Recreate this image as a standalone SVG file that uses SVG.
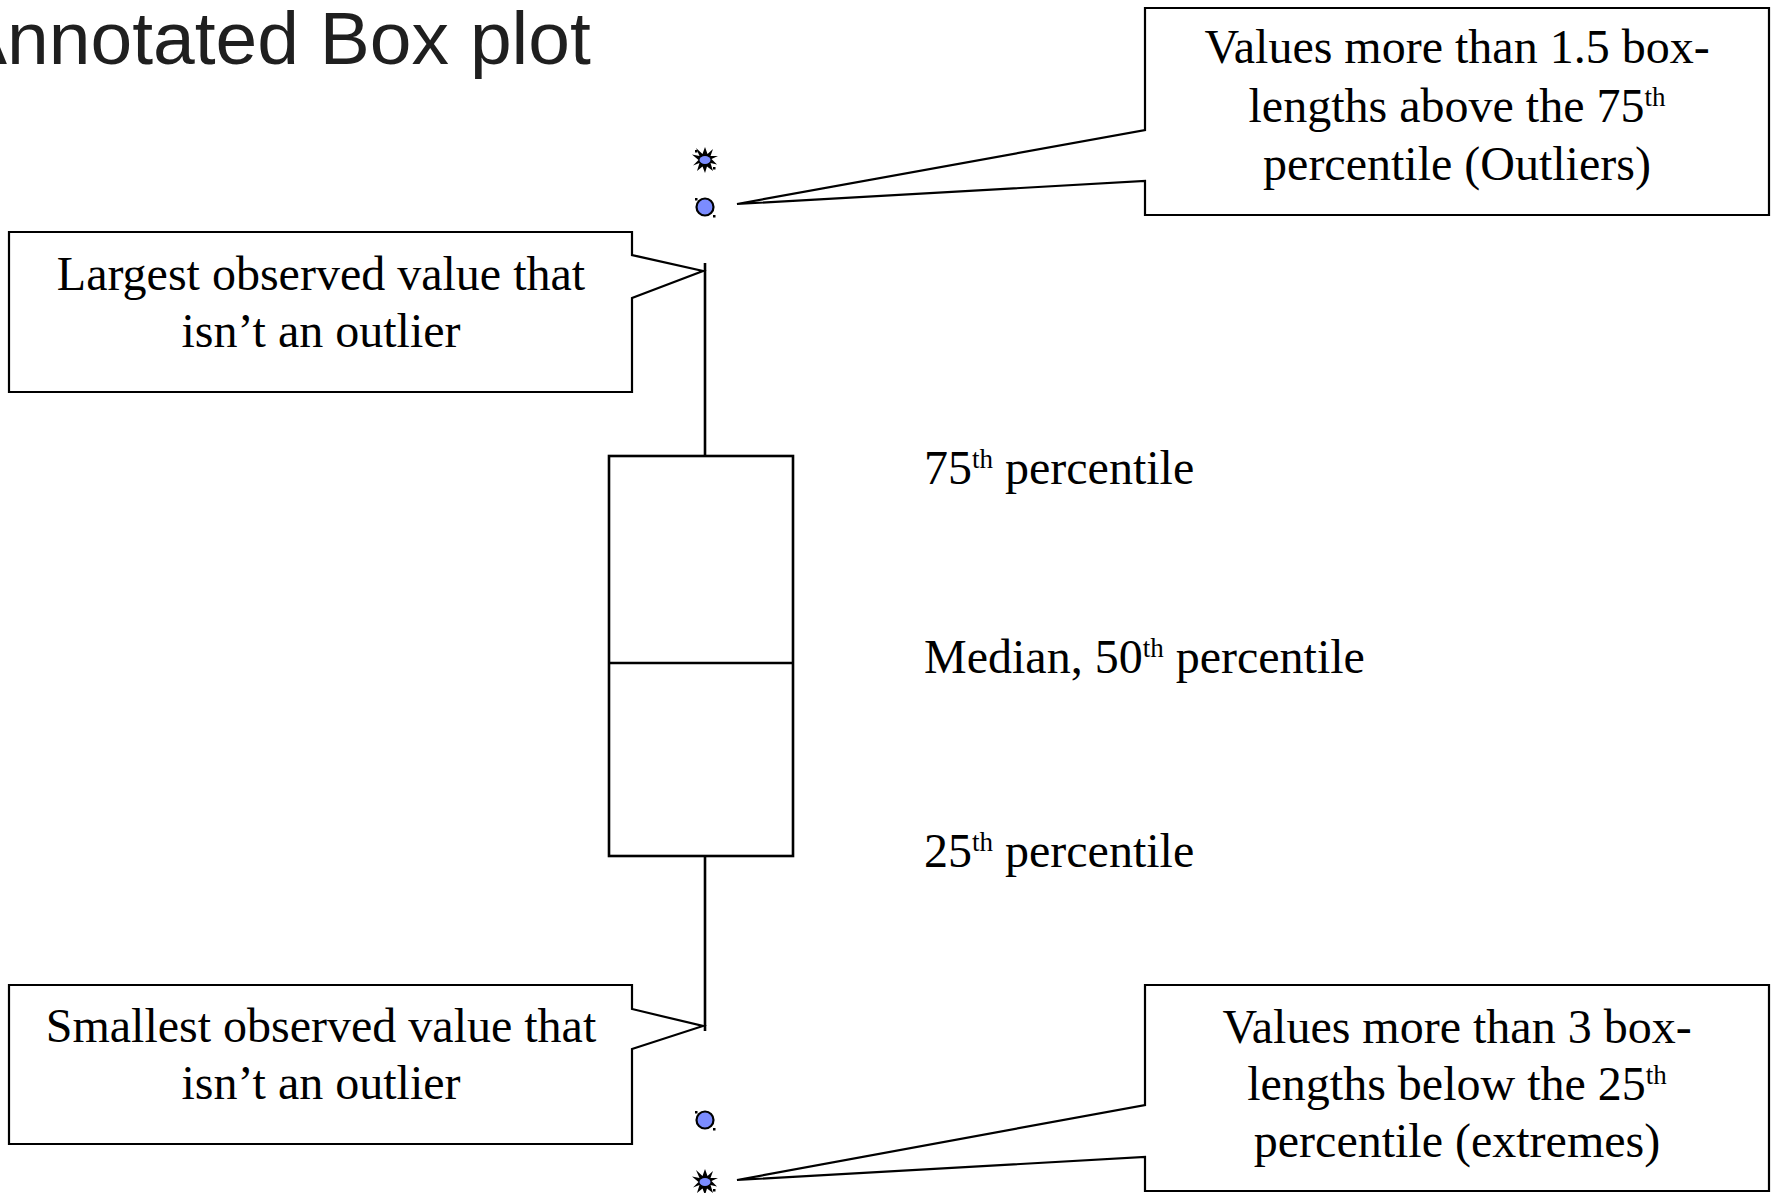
<svg xmlns="http://www.w3.org/2000/svg" width="1777" height="1193" viewBox="0 0 1777 1193">
<style>
.title{font-family:"Liberation Sans",Arial,sans-serif;font-size:75px;fill:#1f1f1f}
.lbl{font-family:"Liberation Serif","Times New Roman",serif;font-size:48px;fill:#000}
.mid{text-anchor:middle}
.sup{font-size:27px}
.callout{fill:#fff;stroke:#000;stroke-width:2.2;stroke-linejoin:miter}
.plot{fill:none;stroke:#000;stroke-width:2.6}
.pt{fill:#7b8cff;stroke:#000;stroke-width:2.2}
.burst{fill:#000}
.core{fill:#7b8cff}
.h{fill:#000}
</style>
<defs>
<polygon id="star" points="0,-13 2.5,-6 8,-11 5.5,-4 13,-4 6.5,-1 12,4.5 5.5,3 8,11 2,6.5 0,13 -2.5,6.5 -8,11 -5.5,3 -12,5.5 -6.5,0 -13,-5.5 -5.5,-4 -9,-12 -2.5,-6"/>
</defs>
<rect width="1777" height="1193" fill="#fff"/>
<text id="title" class="title" x="-43" y="64">Annotated Box plot</text>

<g id="connectors">
<line class="plot" x1="705" y1="263" x2="705" y2="456"/>
<line class="plot" x1="705" y1="856" x2="705" y2="1031"/>
</g>

<g id="box">
<rect class="plot" x="609" y="456" width="184" height="400"/>
<line class="plot" x1="609" y1="663" x2="793" y2="663"/>
</g>

<g id="outlier-high">
<circle class="pt" cx="705" cy="207" r="8.5"/>
<rect class="h" x="695" y="198" width="2.5" height="2.5"/>
<rect class="h" x="713" y="215" width="2.5" height="2.5"/>
</g>
<g id="extreme-high">
<use href="#star" class="burst" x="705" y="160"/>
<ellipse class="core" cx="705" cy="160" rx="5.5" ry="4"/>
<rect class="h" x="695" y="150" width="2.5" height="2.5"/>
<rect class="h" x="713" y="167" width="2.5" height="2.5"/>
</g>
<g id="outlier-low">
<circle class="pt" cx="705" cy="1120" r="8.5"/>
<rect class="h" x="695" y="1111" width="2.5" height="2.5"/>
<rect class="h" x="713" y="1128" width="2.5" height="2.5"/>
</g>
<g id="extreme-low">
<use href="#star" class="burst" x="705" y="1182"/>
<ellipse class="core" cx="705" cy="1182" rx="5.5" ry="4"/>
<rect class="h" x="713" y="1189" width="2.5" height="2.5"/>
</g>

<g id="callout-outliers">
<path class="callout" d="M1145,8 H1769 V215 H1145 V181 L737,204 L1145,130 Z"/>
<text class="lbl mid" x="1457" y="63">Values more than 1.5 box-</text>
<text class="lbl mid" x="1457" y="122">lengths above the 75<tspan class="sup" dy="-16">th</tspan></text>
<text class="lbl mid" x="1457" y="180">percentile (Outliers)</text>
</g>

<g id="callout-largest">
<path class="callout" d="M9,232 H632 V255 L703,271 L632,298 V392 H9 Z"/>
<text class="lbl mid" x="321" y="290">Largest observed value that</text>
<text class="lbl mid" x="321" y="347">isn’t an outlier</text>
</g>

<g id="label-75">
<text class="lbl" x="924" y="484">75<tspan class="sup" dy="-16">th</tspan><tspan dy="16"> percentile</tspan></text>
</g>
<g id="label-median">
<text class="lbl" x="924" y="673">Median, 50<tspan class="sup" dy="-16">th</tspan><tspan dy="16"> percentile</tspan></text>
</g>
<g id="label-25">
<text class="lbl" x="924" y="867">25<tspan class="sup" dy="-16">th</tspan><tspan dy="16"> percentile</tspan></text>
</g>

<g id="callout-smallest">
<path class="callout" d="M9,985 H632 V1009 L703,1026 L632,1049 V1144 H9 Z"/>
<text class="lbl mid" x="321" y="1042">Smallest observed value that</text>
<text class="lbl mid" x="321" y="1099">isn’t an outlier</text>
</g>

<g id="callout-extremes">
<path class="callout" d="M1145,985 H1769 V1191 H1145 V1157 L737,1180 L1145,1105 Z"/>
<text class="lbl mid" x="1457" y="1043">Values more than 3 box-</text>
<text class="lbl mid" x="1457" y="1100">lengths below the 25<tspan class="sup" dy="-16">th</tspan></text>
<text class="lbl mid" x="1457" y="1157">percentile (extremes)</text>
</g>
</svg>
